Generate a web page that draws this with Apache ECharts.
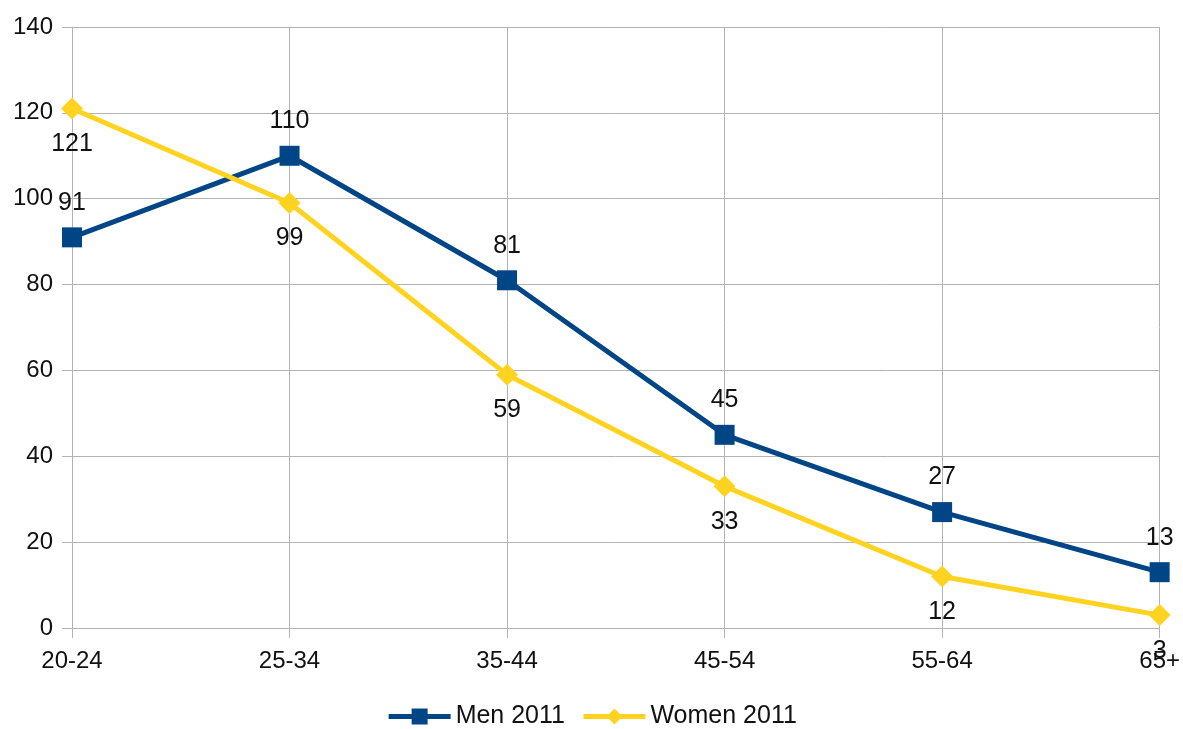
<!DOCTYPE html>
<html>
<head>
<meta charset="utf-8">
<script src="https://cdn.jsdelivr.net/npm/echarts@6/dist/echarts.min.js"></script>
<style>
  html, body { margin: 0; padding: 0; background: #fff; }
  #chart { width: 1183px; height: 729px; }
</style>
</head>
<body>
<div id="chart"></div>
<script>
  // categories and values
  const ageGroups = ['20-24', '25-34', '35-44', '45-54', '55-64', '65+']
  const men2011 = [91, 110, 81, 45, 27, 13]
  const women2011 = [121, 99, 59, 33, 12, 3]

  const chart = echarts.init(document.getElementById('chart'))
  const textFont = 'Liberation Sans'

  chart.setOption({
    animation: false,
    textStyle: { fontFamily: textFont },
    grid: { left: 72, right: 23, top: 27, bottom: 101 },
    legend: {
      top: 699,
      left: 'center',
      itemWidth: 62,
      itemHeight: 20,
      itemGap: 16,
      lineStyle: { width: 5 },
      textStyle: { fontSize: 25, color: '#111', fontFamily: textFont },
      data: ['Men 2011', 'Women 2011']
    },
    xAxis: {
      type: 'category',
      boundaryGap: false,
      data: ageGroups,
      axisLine: { show: true, lineStyle: { color: '#b3b3b3', width: 1 } },
      axisTick: { show: true, length: 10, lineStyle: { color: '#b3b3b3' } },
      splitLine: { show: true, lineStyle: { color: '#b3b3b3', width: 1 } },
      axisLabel: { fontSize: 24, color: '#111', margin: 21 }
    },
    yAxis: {
      type: 'value',
      min: 0,
      max: 140,
      interval: 20,
      axisLine: { show: true, lineStyle: { color: '#b3b3b3', width: 1 } },
      axisTick: { show: true, length: 10, lineStyle: { color: '#b3b3b3' } },
      splitLine: { show: true, lineStyle: { color: '#b3b3b3', width: 1 } },
      axisLabel: { fontSize: 24, color: '#111', margin: 19 }
    },
    series: [
      {
        name: 'Men 2011',
        type: 'line',
        data: men2011,
        symbol: 'rect',
        symbolSize: 20,
        lineStyle: { color: '#004586', width: 5 },
        itemStyle: { color: '#004586' },
        label: { show: true, position: 'top', distance: 12, fontSize: 25, color: '#111' }
      },
      {
        name: 'Women 2011',
        type: 'line',
        data: women2011,
        symbol: 'diamond',
        symbolSize: 22,
        lineStyle: { color: '#ffd320', width: 5 },
        itemStyle: { color: '#ffd320' },
        label: { show: true, position: 'bottom', distance: 12, fontSize: 25, color: '#111' }
      }
    ]
  })
</script>
</body>
</html>
